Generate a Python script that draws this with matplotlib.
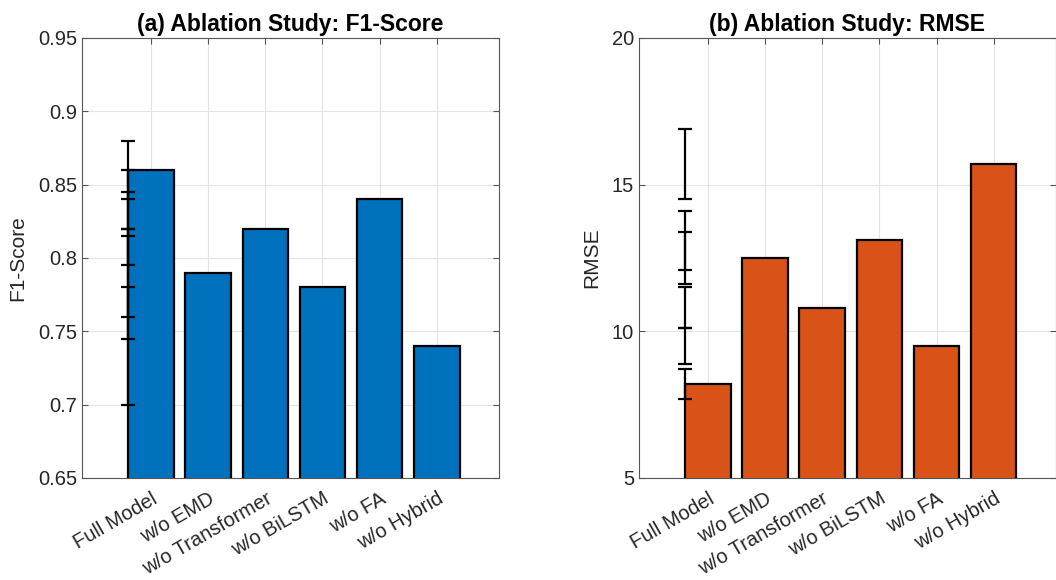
import numpy as np
import matplotlib
matplotlib.use("Agg")
import matplotlib.pyplot as plt

plt.rcParams['font.family'] = ['Liberation Sans', 'DejaVu Sans']

# data
labels = ["Full Model", "w/o EMD", "w/o Transformer", "w/o BiLSTM", "w/o FA", "w/o Hybrid"]
f1 = [0.86, 0.79, 0.82, 0.78, 0.84, 0.74]
f1_err = [0.02, 0.03, 0.025, 0.035, 0.02, 0.04]
rmse = [8.2, 12.5, 10.8, 13.1, 9.5, 15.7]
rmse_err = [0.5, 0.9, 0.7, 1.0, 0.6, 1.2]

f1_ticks = [0.65, 0.7, 0.75, 0.8, 0.85, 0.9, 0.95]
f1_ticklabels = ["0.65", "0.7", "0.75", "0.8", "0.85", "0.9", "0.95"]
rmse_ticks = [5, 10, 15, 20]

blue = "#0072BD"
orange = "#D95319"
axcol = "#555555"

fig = plt.figure(figsize=(10.56, 5.8), dpi=100)
ax1 = fig.add_axes([0.0777, 0.1759, 0.3948, 0.7586])
ax2 = fig.add_axes([0.6051, 0.1759, 0.3948, 0.7586])


def panel(ax, vals, errs, color, ylim, yticks, yticklabels, ylabel, title):
    x = np.arange(1, len(vals) + 1)
    bars = ax.bar(x, vals, width=0.8, color=color, edgecolor="black",
                  linewidth=1.6, zorder=2)
    # error bars all drawn at the left edge of the first bar
    ex = np.full(len(vals), bars[0].get_x())
    ax.errorbar(ex, vals, yerr=errs, fmt="none", ecolor="black",
                elinewidth=1.6, capsize=5, capthick=1.6, zorder=3)
    ax.set_xlim(-0.21, 7.09)
    ax.set_ylim(*ylim)
    ax.set_yticks(yticks)
    ax.set_yticklabels(yticklabels)
    ax.set_xticks(x)
    ax.set_xticklabels(labels, rotation=30, ha="right", va="top",
                       rotation_mode="anchor")
    ax.tick_params(direction="in", top=True, right=True, length=4,
                   labelsize=14.5, colors=axcol, labelcolor="#262626", width=0.8)
    ax.tick_params(axis="x", pad=8)
    ax.grid(True, color="#e3e3e3", linewidth=0.8, zorder=0)
    ax.set_axisbelow(True)
    for s in ax.spines.values():
        s.set_color(axcol)
        s.set_linewidth(0.8)
    ax.set_ylabel(ylabel, fontsize=15, color="#262626", labelpad=8)
    ax.set_title(title, fontsize=16.5, fontweight="bold", pad=5)


panel(ax1, f1, f1_err, blue, (0.65, 0.95), f1_ticks, f1_ticklabels,
      "F1-Score", "(a) Ablation Study: F1-Score")
panel(ax2, rmse, rmse_err, orange, (5, 20), rmse_ticks,
      [str(t) for t in rmse_ticks], "RMSE", "(b) Ablation Study: RMSE")

fig.savefig("out.png", dpi=100)
